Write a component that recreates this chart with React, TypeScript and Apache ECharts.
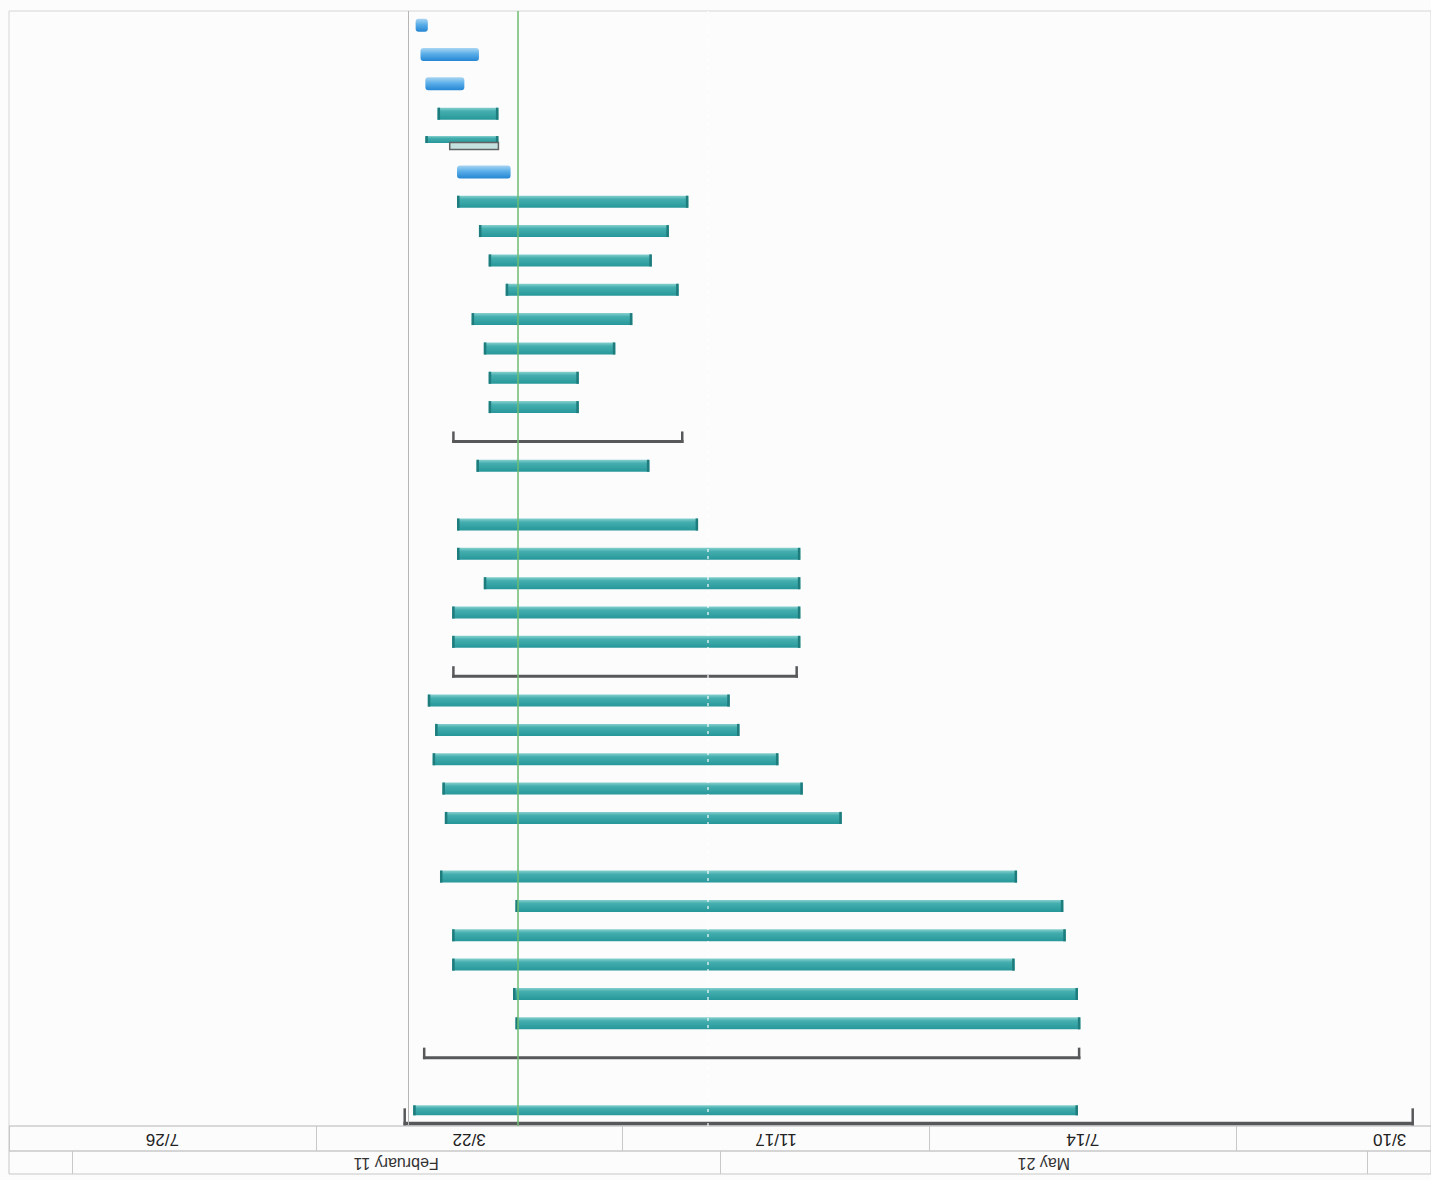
import React, { useEffect, useRef } from "react";
import * as echarts from "echarts";

const ORIGIN_UTC = Date.UTC(2003, 2, 10);
const dayOf = (iso: string): number => (Date.parse(iso + "T00:00:00Z") - ORIGIN_UTC) / 86400000;

const ROW_COUNT = 38; // row 0 = first row of the schedule (project summary)

// regular (teal) task bars
const taskRow = [0, 3, 4, 5, 6, 7, 8, 10, 11, 12, 13, 14, 16, 17, 18, 19, 20, 22, 24, 25, 26, 27, 28, 29, 30, 31, 33, 34];
const taskStart = [
  "2003-09-17", "2003-09-16", "2003-09-17", "2003-10-13", "2003-09-22", "2003-09-23", "2003-10-12",
  "2003-12-23", "2004-01-08", "2004-01-18", "2004-02-03", "2004-02-07",
  "2004-01-09", "2004-01-09", "2004-01-09", "2004-01-09", "2004-02-20",
  "2004-03-11", "2004-04-09", "2004-04-09", "2004-03-25", "2004-03-18", "2004-02-28",
  "2004-03-10", "2004-03-03", "2004-02-24", "2004-05-12", "2004-05-12",
];
const taskFinish = [
  "2004-06-16", "2004-05-05", "2004-05-06", "2004-05-31", "2004-05-31", "2004-05-05", "2004-06-05",
  "2004-06-03", "2004-06-04", "2004-06-08", "2004-06-07", "2004-06-10",
  "2004-05-31", "2004-05-31", "2004-05-18", "2004-05-29", "2004-05-29",
  "2004-05-21", "2004-05-16", "2004-05-16", "2004-05-18", "2004-05-23", "2004-05-09",
  "2004-05-16", "2004-05-20", "2004-05-29", "2004-06-11", "2004-06-06",
];

// blue (rounded) bars
const blueRow = [32, 35, 36, 37];
const blueStart = ["2004-05-07", "2004-05-26", "2004-05-20", "2004-06-10"];
const blueFinish = ["2004-05-29", "2004-06-11", "2004-06-13", "2004-06-15"];

// summary brackets
const summaryRow = [0, 2, 15, 23];
const summaryStart = ["2003-05-02", "2003-09-16", "2004-01-10", "2004-02-26"];
const summaryFinish = ["2004-06-20", "2004-06-12", "2004-05-31", "2004-05-31"];

// outlined (split) bar
const splitRow = [33];
const splitStart = ["2004-05-12"];
const splitFinish = ["2004-06-01"];

// vertical date lines
const finishLineDate = "2004-06-18";
const statusLineDate = "2004-05-04";
const pageBreakDate = "2004-02-16";

// timescale
const axisFirstDate = "2003-04-25";
const axisLastDate = "2004-11-29";
const tier1Ticks = ["2003-03-10", "2003-07-14", "2003-11-17", "2004-03-22", "2004-07-26", "2004-11-29"];
const tier1Labels = ["3/10", "7/14", "11/17", "3/22", "7/26"];
const tier2Ticks = ["2003-05-21", "2004-02-11", "2004-11-03"];
const tier2Labels = ["May 21", "February 11"];

// ---------- helpers ----------
const mids = (ticks: string[]) =>
  ticks.slice(0, -1).map((t, i) => (dayOf(t) + dayOf(ticks[i + 1])) / 2);

const makeData = (rows: number[], s: string[], f: string[]) =>
  rows.map((r, i) => [r, dayOf(s[i]), dayOf(f[i])]);

const ends = (api: any) => {
  const row = api.value(0);
  const a = api.coord([api.value(1), row]);
  const b = api.coord([api.value(2), row]);
  return { row, x1: Math.min(a[0], b[0]), x2: Math.max(a[0], b[0]), cy: a[1] };
};

const tealFill = new echarts.graphic.LinearGradient(0, 0, 0, 1, [
  { offset: 0, color: "#86d0cf" },
  { offset: 0.3, color: "#44aeae" },
  { offset: 1, color: "#27979a" },
]);
const blueFill = new echarts.graphic.LinearGradient(0, 0, 0, 1, [
  { offset: 0, color: "#a9d5f3" },
  { offset: 0.45, color: "#5aaee8" },
  { offset: 1, color: "#2586d3" },
]);
const CAP = "#1f7c7d";
const BRACKET = "#57585a";

export default function App() {
  const ref = useRef<HTMLDivElement>(null);

  useEffect(() => {
    if (!ref.current) return;
    const chart = echarts.init(ref.current, undefined, { renderer: "svg" });

    const t1Centers = mids(tier1Ticks);
    const t2Centers = mids(tier2Ticks);
    const pick = (centers: number[], labels: string[]) => (v: number) => {
      let best = 0;
      centers.forEach((c, i) => {
        if (Math.abs(c - v) < Math.abs(centers[best] - v)) best = i;
      });
      return labels[best];
    };

    const min = dayOf(axisFirstDate);
    const max = dayOf(axisLastDate);
    const baseX = { type: "value", min, max, inverse: true };
    const LEFT = 9;
    const RIGHT = -2;

    const labelFont = { fontFamily: "Liberation Sans, Arial, sans-serif", color: "#222" };

    const option: any = {
      animation: false,
      backgroundColor: "#fcfcfc",
      grid: [
        { left: LEFT, right: RIGHT, top: 11, height: 1115, show: true, borderColor: "#d6d6d6", borderWidth: 1, backgroundColor: "transparent" },
        { left: LEFT, right: RIGHT, top: 1126, height: 25, show: true, borderColor: "#c8c8c8", borderWidth: 1, backgroundColor: "transparent" },
        { left: LEFT, right: RIGHT, top: 1151, height: 23, show: true, borderColor: "#c8c8c8", borderWidth: 1, backgroundColor: "transparent" },
      ],
      xAxis: [
        { ...baseX, gridIndex: 0, show: false },
        {
          ...baseX,
          gridIndex: 1,
          position: "bottom",
          axisLine: { show: false },
          splitLine: { show: false },
          axisTick: {
            show: true, inside: true, length: 25,
            customValues: tier1Ticks.map(dayOf),
            lineStyle: { color: "#c8c8c8", width: 1 },
          },
          axisLabel: {
            show: true, inside: true, margin: 12, rotate: 180,
            align: "center", verticalAlign: "middle",
            customValues: t1Centers,
            formatter: pick(t1Centers, tier1Labels),
            fontSize: 17, ...labelFont,
          },
        },
        {
          ...baseX,
          gridIndex: 2,
          position: "bottom",
          axisLine: { show: false },
          splitLine: { show: false },
          axisTick: {
            show: true, inside: true, length: 23,
            customValues: tier2Ticks.map(dayOf),
            lineStyle: { color: "#c8c8c8", width: 1 },
          },
          axisLabel: {
            show: true, inside: true, margin: 11, rotate: 180,
            align: "center", verticalAlign: "middle",
            customValues: t2Centers,
            formatter: pick(t2Centers, tier2Labels),
            fontSize: 16, ...labelFont, color: "#333",
          },
        },
      ],
      yAxis: [
        { type: "category", gridIndex: 0, data: Array.from({ length: ROW_COUNT }, (_, i) => String(i)), show: false },
        { type: "value", gridIndex: 1, show: false },
        { type: "value", gridIndex: 2, show: false },
      ],
      series: [
        {
          type: "custom",
          name: "summary",
          xAxisIndex: 0,
          yAxisIndex: 0,
          encode: { x: [1, 2], y: 0 },
          data: makeData(summaryRow, summaryStart, summaryFinish),
          renderItem: (_p: any, api: any) => {
            const { row, x1, x2, cy } = ends(api);
            const lineY = row === 0 ? cy + 10.5 : cy + 3.5;
            const lineH = row === 0 ? 3.5 : 3;
            const capTop = row === 0 ? cy - 3 : cy - 5;
            const capBottom = lineY + lineH;
            return {
              type: "group",
              children: [
                { type: "rect", shape: { x: x1, y: lineY, width: x2 - x1, height: lineH }, style: { fill: BRACKET } },
                { type: "rect", shape: { x: x1, y: capTop, width: 2.5, height: capBottom - capTop }, style: { fill: BRACKET } },
                { type: "rect", shape: { x: x2 - 2.5, y: capTop, width: 2.5, height: capBottom - capTop }, style: { fill: BRACKET } },
              ],
            };
          },
        },
        {
          type: "custom",
          name: "tasks",
          xAxisIndex: 0,
          yAxisIndex: 0,
          encode: { x: [1, 2], y: 0 },
          data: makeData(taskRow, taskStart, taskFinish),
          renderItem: (_p: any, api: any) => {
            const { row, x1, x2, cy } = ends(api);
            let top = cy - 6;
            let h = 12;
            if (row === 0) { top = cy - 6; h = 10; }
            if (splitRow.includes(row)) { top = cy - 7; h = 7; }
            return {
              type: "group",
              children: [
                { type: "rect", shape: { x: x1, y: top, width: x2 - x1, height: h }, style: { fill: tealFill } },
                { type: "rect", shape: { x: x1, y: top, width: 2.5, height: h }, style: { fill: CAP } },
                { type: "rect", shape: { x: x2 - 2.5, y: top, width: 2.5, height: h }, style: { fill: CAP } },
              ],
            };
          },
          markLine: {
            silent: true,
            symbol: ["none", "none"],
            label: { show: false },
            data: [
              { xAxis: dayOf(finishLineDate), lineStyle: { color: "#b5b5b5", width: 1, type: "solid" } },
              { xAxis: dayOf(pageBreakDate), lineStyle: { color: "#ffffff", width: 2, opacity: 0.6, type: [3, 4] } },
              { xAxis: dayOf(statusLineDate), lineStyle: { color: "#6cbd70", width: 1.5, type: "solid" } },
            ],
          },
        },
        {
          type: "custom",
          name: "split",
          xAxisIndex: 0,
          yAxisIndex: 0,
          encode: { x: [1, 2], y: 0 },
          data: makeData(splitRow, splitStart, splitFinish),
          renderItem: (_p: any, api: any) => {
            const { x1, x2, cy } = ends(api);
            return {
              type: "rect",
              shape: { x: x1, y: cy - 0.5, width: x2 - x1, height: 7 },
              style: { fill: "#c4e0df", stroke: "#5f6364", lineWidth: 1.5 },
            };
          },
        },
        {
          type: "custom",
          name: "blue",
          xAxisIndex: 0,
          yAxisIndex: 0,
          encode: { x: [1, 2], y: 0 },
          data: makeData(blueRow, blueStart, blueFinish),
          renderItem: (_p: any, api: any) => {
            const { x1, x2, cy } = ends(api);
            return {
              type: "rect",
              shape: { x: x1, y: cy - 7, width: x2 - x1, height: 13, r: 3 },
              style: { fill: blueFill },
            };
          },
        },
      ],
    };

    chart.setOption(option);
    return () => chart.dispose();
  }, []);

  return (
    <div
      ref={ref}
      style={{ position: "absolute", left: 0, top: 0, width: 1431, height: 1180, background: "#fcfcfc" }}
    />
  );
}
